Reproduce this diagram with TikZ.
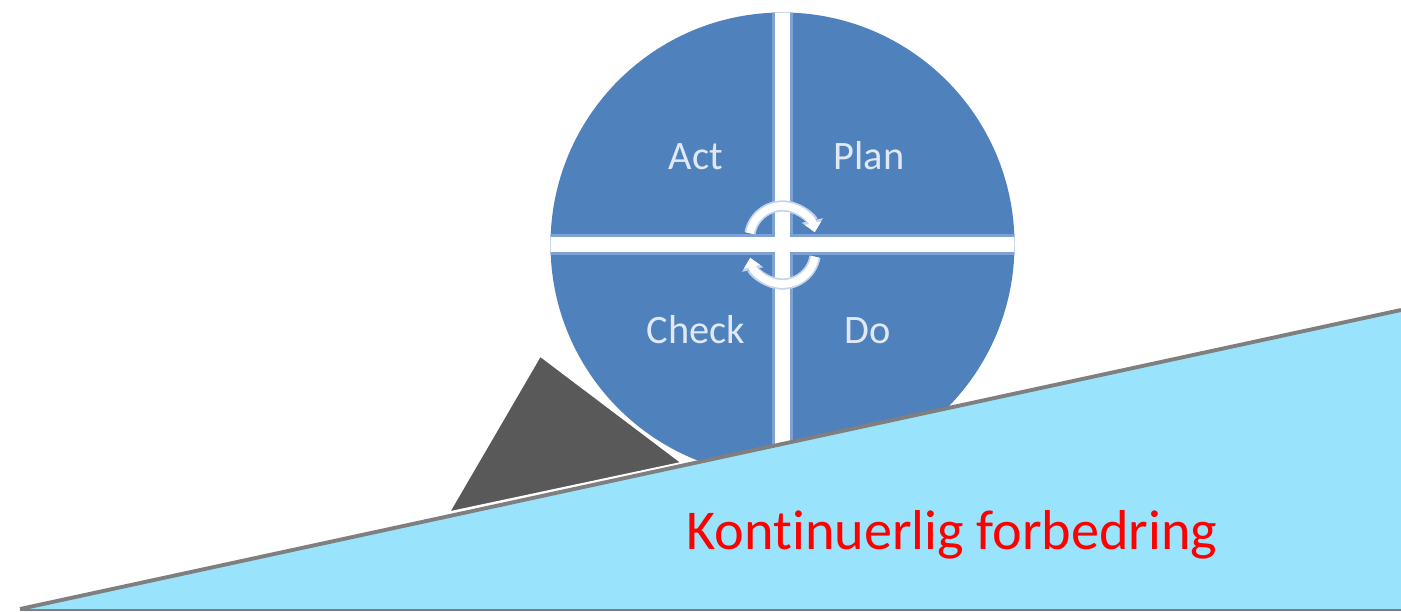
\documentclass[tikz,border=0pt]{standalone}
\usepackage{fontspec}
\setmainfont[Ligatures=NoCommon]{Carlito}
\usetikzlibrary{arrows.meta}
\definecolor{wheelblue}{HTML}{4F81BD}
\definecolor{wheeledge}{HTML}{7EA2D3}
\definecolor{labeltext}{HTML}{DFE8F4}
\definecolor{rampblue}{HTML}{99E4FC}
\definecolor{rampline}{HTML}{7F7F7F}
\definecolor{wedgegray}{HTML}{595959}
\definecolor{cycedge}{HTML}{C3D5EE}

\begin{document}
\begin{tikzpicture}[
    x=0.1mm, y=0.1mm,
    quad/.style={font=\fontsize{11.5}{13}\selectfont, text=labeltext, anchor=base},
    cyc/.style={white, line width=2.2pt, -{Triangle[width=4.6pt, length=2.6pt]},
        preaction={draw=cycedge, line width=3.2pt, -{Triangle[width=6pt, length=3.4pt]}}},
    >=Stealth
]
    \useasboundingbox (0,0) rectangle (1401,611);

    % Wheel
    \coordinate (c) at (782.5,366.5);
    \fill[wheelblue] (c) circle[radius=232];
    \begin{scope}
        \clip (c) circle[radius=232];
        \draw[wheeledge, line width=2.1mm] (782.5,130) -- (782.5,600);
        \draw[wheeledge, line width=2.1mm] (545,366.5) -- (1020,366.5);
        \draw[white, line width=1.5mm] (782.5,130) -- (782.5,600);
        \draw[white, line width=1.5mm] (545,366.5) -- (1020,366.5);
    \end{scope}

    % Wedge
    \filldraw[fill=wedgegray, draw=white, line width=0.8pt, line join=round]
        (540,256) -- (448,98) -- (683,148) -- cycle;

    % Ramp
    \fill[rampblue] (20,2) -- (1401,301) -- (1401,0) -- (20,0) -- cycle;
    \draw[rampline, line width=1.1pt] (20,2) -- (1401,301);
    \draw[rampline, line width=0.6pt] (20,1) -- (1401,1);

    % Cycle arrows
    \coordinate (uc) at (782.5,372);
    \coordinate (lc) at (782.5,360);
    \draw[cyc] ([shift={(170:33)}]uc) arc[start angle=170, end angle=12, radius=33];
    \draw[cyc] ([shift={(-10:33)}]lc) arc[start angle=-10, end angle=-168, radius=33];

    % Labels
    \node[quad] (act) at (696,441) {Act};
    \node[quad] (plan) at (869,441) {Plan};
    \node[quad] (check) at (696,268) {Check};
    \node[quad] (do) at (868,268) {Do};

    \node[font=\fontsize{16}{18}\selectfont, text=red, anchor=base] (kf) at (952,62) {Kontinuerlig forbedring};
\end{tikzpicture}
\end{document}
